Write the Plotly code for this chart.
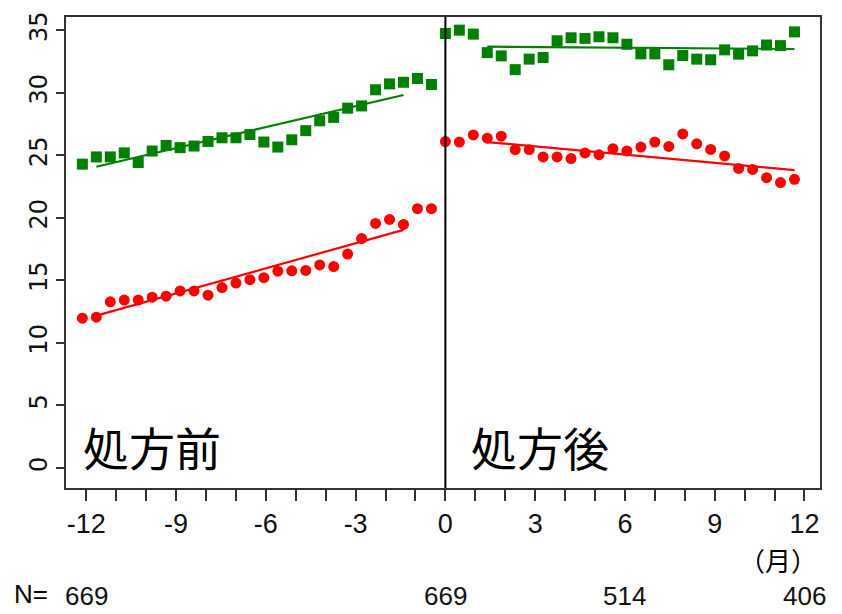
import plotly.graph_objects as go

# Observation days relative to the first prescription (14-day intervals)
days_before = [-364, -350, -336, -322, -308, -294, -280, -266, -252, -238, -224, -210, -196,
               -182, -168, -154, -140, -126, -112, -98, -84, -70, -56, -42, -28, -14]
days_after = [0, 14, 28, 42, 56, 70, 84, 98, 112, 126, 140, 154, 168,
              182, 196, 210, 224, 238, 252, 266, 280, 294, 308, 322, 336, 350]

# Green series (squares)
green_before = [24.30, 24.88, 24.88, 25.20, 24.43, 25.35, 25.80, 25.62, 25.75, 26.12, 26.41, 26.41, 26.67,
                26.07, 25.67, 26.25, 26.98, 27.77, 28.04, 28.78, 28.96, 30.25, 30.72, 30.85, 31.15, 30.67]
green_after = [34.75, 35.02, 34.70, 33.22, 32.96, 31.86, 32.70, 32.83, 34.17, 34.41, 34.36, 34.49, 34.41,
               33.89, 33.12, 33.12, 32.25, 32.99, 32.70, 32.65, 33.44, 33.10, 33.36, 33.83, 33.78, 34.88]

# Red series (circles)
red_before = [11.98, 12.06, 13.29, 13.43, 13.43, 13.66, 13.74, 14.16, 14.16, 13.82, 14.43, 14.79, 15.06,
              15.22, 15.74, 15.77, 15.80, 16.24, 16.11, 17.11, 18.35, 19.56, 19.88, 19.48, 20.74, 20.74]
red_after = [26.11, 26.07, 26.64, 26.38, 26.54, 25.46, 25.46, 24.88, 24.88, 24.75, 25.20, 25.06, 25.54,
             25.36, 25.67, 26.07, 25.72, 26.72, 25.93, 25.48, 24.96, 23.96, 23.88, 23.22, 22.83, 23.09]

# Trend lines (start/end day and value)
trend_days_before = [-350, -42]
trend_days_after = [42, 350]
green_trend_before = [24.09, 29.83]
green_trend_after = [33.70, 33.51]
red_trend_before = [12.19, 19.04]
red_trend_after = [26.07, 23.82]

# Axis ticks
x_major = [-12, -9, -6, -3, 0, 3, 6, 9, 12]
y_major = [0, 5, 10, 15, 20, 25, 30, 35]

# Patient counts below the axis
n_months = [-12, 0, 6, 12]
n_counts = [669, 669, 514, 406]

GREEN = "#008000"
RED = "#ff0000"
DAYS_PER_MONTH = 30.0

PLOT_L, PLOT_R, PLOT_T, PLOT_B = 65.5, 820.0, 11.7, 488.5
W, H = 842, 614


def months(days):
    return [d / DAYS_PER_MONTH for d in days]


def px_to_xpaper(px):
    return (px - PLOT_L) / (PLOT_R - PLOT_L)


def px_to_ypaper(py):
    return (PLOT_B - py) / (PLOT_B - PLOT_T)


fig = go.Figure()

for days, vals in [(days_before, green_before), (days_after, green_after)]:
    fig.add_trace(go.Scatter(x=months(days), y=vals, mode="markers",
                             marker=dict(symbol="square", size=11, color=GREEN),
                             showlegend=False, hoverinfo="skip"))
for days, vals in [(days_before, red_before), (days_after, red_after)]:
    fig.add_trace(go.Scatter(x=months(days), y=vals, mode="markers",
                             marker=dict(symbol="circle", size=11, color=RED),
                             showlegend=False, hoverinfo="skip"))

for days, vals, col in [(trend_days_before, green_trend_before, GREEN),
                        (trend_days_after, green_trend_after, GREEN),
                        (trend_days_before, red_trend_before, RED),
                        (trend_days_after, red_trend_after, RED)]:
    fig.add_trace(go.Scatter(x=months(days), y=vals, mode="lines",
                             line=dict(color=col, width=2.2),
                             showlegend=False, hoverinfo="skip"))

# Divider at the prescription start
fig.add_shape(type="line", x0=0, x1=0, xref="x", y0=0, y1=1, yref="paper",
              line=dict(color="black", width=2))

# Period labels and units
fig.add_annotation(text="処方前", x=px_to_xpaper(152), xref="paper", y=px_to_ypaper(446), yref="paper",
                   showarrow=False, xanchor="center", yanchor="middle",
                   font=dict(family="Noto Sans CJK JP", size=46, color="black"))
fig.add_annotation(text="処方後", x=px_to_xpaper(540), xref="paper", y=px_to_ypaper(446), yref="paper",
                   showarrow=False, xanchor="center", yanchor="middle",
                   font=dict(family="Noto Sans CJK JP", size=46, color="black"))
fig.add_annotation(text="（月）", x=px_to_xpaper(778), xref="paper", y=px_to_ypaper(561), yref="paper",
                   showarrow=False, xanchor="center", yanchor="middle",
                   font=dict(family="Noto Sans CJK JP", size=26, color="black"))
fig.add_annotation(text="N=", x=px_to_xpaper(30), xref="paper", y=px_to_ypaper(596), yref="paper",
                   showarrow=False, xanchor="center", yanchor="middle",
                   font=dict(family="Liberation Sans", size=26, color="black"))
for m, n in zip(n_months, n_counts):
    fig.add_annotation(text=str(n), x=m, xref="x", y=px_to_ypaper(598), yref="paper",
                       showarrow=False, xanchor="center", yanchor="middle",
                       font=dict(family="Liberation Sans", size=26, color="#111"))

fig.update_xaxes(range=[-12.68, 12.52], tickmode="array", tickvals=x_major,
                 ticktext=[str(v) for v in x_major],
                 ticks="outside", ticklen=11, tickwidth=1.5, tickcolor="#333",
                 minor=dict(dtick=1, tick0=0, ticks="outside", ticklen=11, tickwidth=1.5, tickcolor="#333",
                            showgrid=False),
                 showgrid=False, zeroline=False, showline=True, linecolor="#333", linewidth=1.5,
                 mirror=True,
                 tickfont=dict(family="Liberation Sans", size=27, color="#111"))
fig.update_yaxes(range=[-1.6, 36.07], tickmode="array", tickvals=y_major,
                 ticks="outside", ticklen=8, tickwidth=1.5, tickcolor="#333",
                 tickangle=-90,
                 showgrid=False, zeroline=False, showline=True, linecolor="#333", linewidth=1.5,
                 mirror=True,
                 tickfont=dict(family="DejaVu Sans", size=24, color="#111"))

fig.update_layout(width=W, height=H,
                  margin=dict(l=PLOT_L, r=W - PLOT_R, t=PLOT_T, b=H - PLOT_B, pad=0),
                  plot_bgcolor="white", paper_bgcolor="white", showlegend=False)

fig.write_html("out.html")
